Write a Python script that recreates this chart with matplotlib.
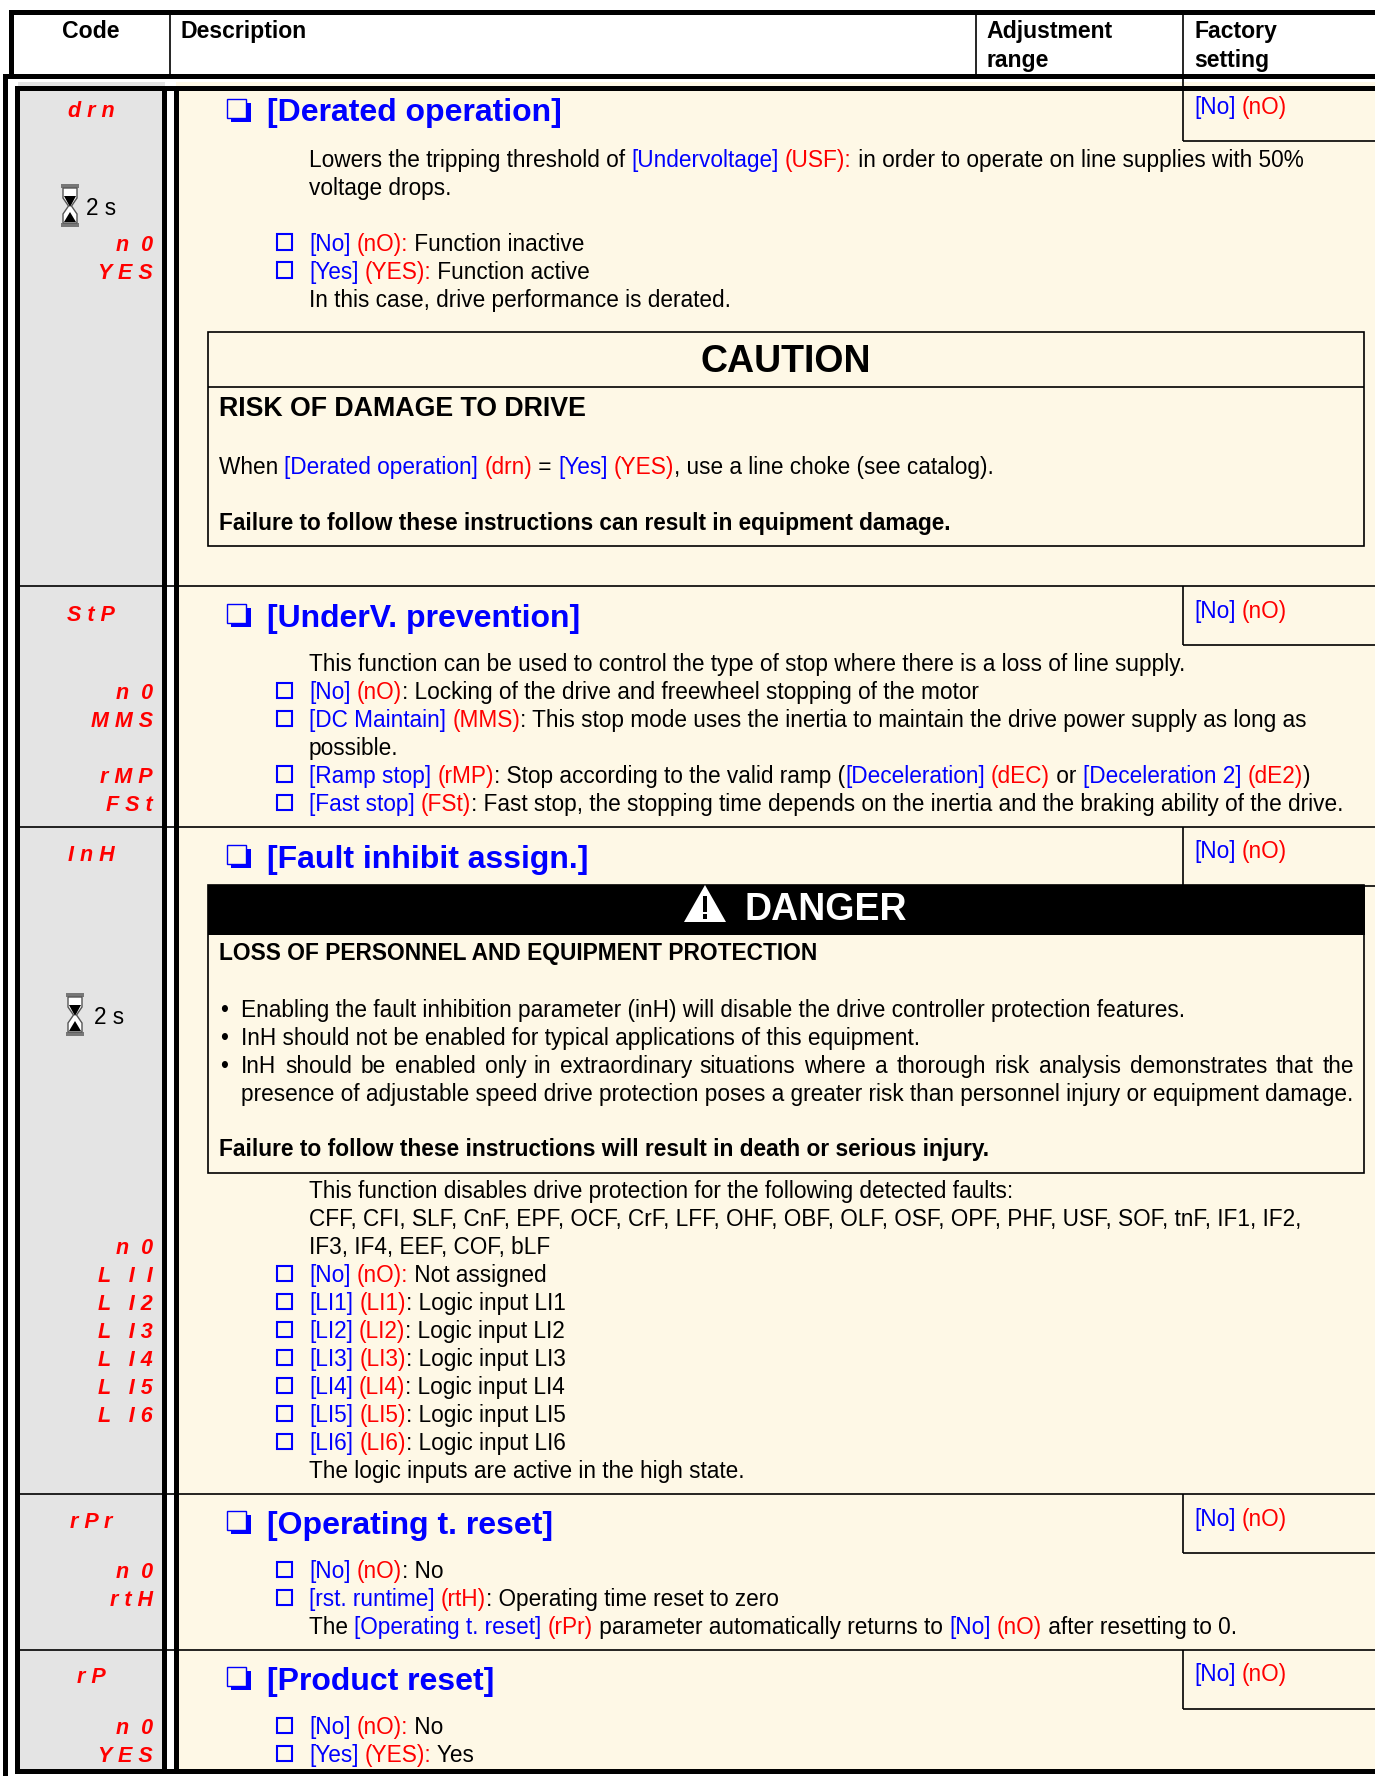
#!/usr/bin/env python3
"""
Drive parameter manual page, drawn as a table in pixel coordinates.
~text~ is blue and ^text^ is red in the text lines below.
"""

import re
import matplotlib
matplotlib.use('Agg')
import matplotlib.pyplot as plt
from matplotlib.patches import Polygon, Rectangle

FONT = 'Liberation Sans'
BLUE = '#0000FF'
RED = '#FF0000'
CREAM = '#FEF8E6'
GREY = '#E4E4E4'

# Header
header_cols = ['Code', 'Description', 'Adjustment\nrange', 'Factory\nsetting']
factory_value = '~[No]~ ^(nO)^'

# Section titles
titles = ['[Derated operation]', '[UnderV. prevention]', '[Fault inhibit assign.]',
          '[Operating t. reset]', '[Product reset]']

# Code column labels
codes_drn = ['d r n', 'n  0', 'Y E S']
codes_stp = ['S t P', 'n  0', 'M M S', 'r M P', 'F S t']
codes_inh = ['I n H', 'n  0', 'L   I  I', 'L   I 2', 'L   I 3', 'L   I 4', 'L   I 5', 'L   I 6']
codes_rpr = ['r P r', 'n  0', 'r t H']
codes_rp = ['r P', 'n  0', 'Y E S']

# Section 1
drn_lines = ['Lowers the tripping threshold of ~[Undervoltage]~ ^(USF):^ in order to operate on line supplies with 50%',
             'voltage drops.']
drn_opts = ['~[No]~ ^(nO):^ Function inactive',
            '~[Yes]~ ^(YES):^ Function active']
drn_after = 'In this case, drive performance is derated.'
caution_title = 'CAUTION'
caution_head = 'RISK OF DAMAGE TO DRIVE'
caution_body = 'When ~[Derated operation]~ ^(drn)^ = ~[Yes]~ ^(YES)^, use a line choke (see catalog).'
caution_foot = 'Failure to follow these instructions can result in equipment damage.'

# Section 2
stp_intro = 'This function can be used to control the type of stop where there is a loss of line supply.'
stp_no = '~[No]~ ^(nO)^: Locking of the drive and freewheel stopping of the motor'
stp_dc = '~[DC Maintain]~ ^(MMS)^: This stop mode uses the inertia to maintain the drive power supply as long as'
stp_dc2 = 'possible.'
stp_ramp = '~[Ramp stop]~ ^(rMP)^: Stop according to the valid ramp (~[Deceleration]~ ^(dEC)^ or ~[Deceleration 2]~ ^(dE2)^)'
stp_fast = '~[Fast stop]~ ^(FSt)^: Fast stop, the stopping time depends on the inertia and the braking ability of the drive.'

# Section 3
danger_title = 'DANGER'
danger_head = 'LOSS OF PERSONNEL AND EQUIPMENT PROTECTION'
danger_bullets = ['Enabling the fault inhibition parameter (inH) will disable the drive controller protection features.',
                  'InH should not be enabled for typical applications of this equipment.',
                  'InH should be enabled only in extraordinary situations where a thorough risk analysis demonstrates that the']
danger_cont = 'presence of adjustable speed drive protection poses a greater risk than personnel injury or equipment damage.'
danger_foot = 'Failure to follow these instructions will result in death or serious injury.'
inh_intro = ['This function disables drive protection for the following detected faults:',
             'CFF, CFI, SLF, CnF, EPF, OCF, CrF, LFF, OHF, OBF, OLF, OSF, OPF, PHF, USF, SOF, tnF, IF1, IF2,',
             'IF3, IF4, EEF, COF, bLF']
inh_opts = ['~[No]~ ^(nO):^ Not assigned', '~[LI1]~ ^(LI1)^: Logic input LI1', '~[LI2]~ ^(LI2)^: Logic input LI2',
            '~[LI3]~ ^(LI3)^: Logic input LI3', '~[LI4]~ ^(LI4)^: Logic input LI4',
            '~[LI5]~ ^(LI5)^: Logic input LI5', '~[LI6]~ ^(LI6)^: Logic input LI6']
inh_after = 'The logic inputs are active in the high state.'

# Section 4 and 5
rpr_opts = ['~[No]~ ^(nO)^: No', '~[rst. runtime]~ ^(rtH)^: Operating time reset to zero']
rpr_after = 'The ~[Operating t. reset]~ ^(rPr)^ parameter automatically returns to ~[No]~ ^(nO)^ after resetting to 0.'
rp_opts = ['~[No]~ ^(nO):^ No', '~[Yes]~ ^(YES):^ Yes']

fig = plt.figure(figsize=(13.75, 17.76), dpi=100)
ax = fig.add_axes([0, 0, 1, 1])
ax.set_xlim(0, 1375)
ax.set_ylim(1776, 0)
ax.axis('off')
renderer = fig.canvas.get_renderer()

BODY = 16.27
HEAD = 16.6
TITLE = 23.0
CODE = 15.5
TEXT_X = 309


def fill(x0, y0, x1, y1, color, z=1):
    ax.add_patch(Rectangle((x0, y0), x1 - x0, y1 - y0, fc=color, ec='none', zorder=z))


def hline(y, x0, x1=1375, lw=1.2):
    ax.plot([x0, x1], [y, y], color='black', lw=lw, solid_capstyle='butt', zorder=3)


def vline(x, y0, y1, lw=1.2):
    ax.plot([x, x], [y0, y1], color='black', lw=lw, solid_capstyle='butt', zorder=3)


def seg_width(s, size, weight):
    # trailing spaces are not measured, so measure against a dot
    a = ax.text(0, 0, s + '.', fontsize=size, fontweight=weight, family=FONT)
    b = ax.text(0, 0, '.', fontsize=size, fontweight=weight, family=FONT)
    w = a.get_window_extent(renderer).width - b.get_window_extent(renderer).width
    a.remove()
    b.remove()
    return w


def rich(x, y, line, size=BODY, weight='normal', color='black'):
    for part in re.split(r'(~[^~]*~|\^[^\^]*\^)', line):
        if not part:
            continue
        c = color
        if part[0] == '~':
            c, part = BLUE, part[1:-1]
        elif part[0] == '^':
            c, part = RED, part[1:-1]
        ax.text(x, y, part, fontsize=size, fontweight=weight, color=c, family=FONT,
                va='baseline', ha='left', zorder=5)
        x += seg_width(part, size, weight)


def justified(x0, x1, y, line, size=BODY):
    # spread the words so the line ends at x1, like the justified paragraph
    words = line.split(' ')
    widths = [seg_width(w, size, 'normal') for w in words]
    gap = (x1 - x0 - sum(widths)) / (len(words) - 1)
    x = x0
    for w, wd in zip(words, widths):
        ax.text(x, y, w, fontsize=size, family=FONT, va='baseline', ha='left', zorder=5)
        x += wd + gap


def option(y, line):
    ax.add_patch(Rectangle((277, y - 16.5), 15.5, 15.5, fc='none', ec=BLUE, lw=1.5, zorder=4))
    rich(TEXT_X, y, line)


def title(y, s):
    # box with a drop shadow
    fill(231, y - 18, 251, y + 1, BLUE, 4)
    ax.add_patch(Rectangle((227.5, y - 22), 19, 19, fc=CREAM, ec=BLUE, lw=1.0, zorder=4))
    rich(267.5, y + 0.5, s, size=TITLE, weight='bold', color=BLUE)


def code(y, s, center=False):
    if center:
        ax.text(91, y, s, fontsize=CODE, color=RED, family=FONT, fontweight='bold',
                style='italic', ha='center', va='baseline', zorder=5)
    else:
        ax.text(153, y, s, fontsize=CODE, color=RED, family=FONT, fontweight='bold',
                style='italic', ha='right', va='baseline', zorder=5)


def hourglass(x, y):
    # frame plates and glass, 18 wide by 44 high
    fill(x, y, x + 18, y + 4, '#777777', 4)
    fill(x, y + 39, x + 18, y + 43, '#777777', 4)
    ax.add_patch(Polygon([(x + 2, y + 4), (x + 16, y + 4), (x + 16, y + 14), (x + 10.5, y + 22),
                          (x + 16, y + 30), (x + 16, y + 39), (x + 2, y + 39), (x + 2, y + 30),
                          (x + 7.5, y + 22), (x + 2, y + 14)],
                         fc='white', ec='#555555', lw=1, zorder=4))
    ax.add_patch(Polygon([(x + 3, y + 12), (x + 15, y + 12), (x + 9, y + 23)], fc='black', ec='none', zorder=5))
    ax.add_patch(Polygon([(x + 3, y + 38), (x + 15, y + 38), (x + 9, y + 28)], fc='black', ec='none', zorder=5))


# Backgrounds
fill(18, 82, 165, 1770, GREY)
fill(176, 82, 1375, 1770, CREAM)

# Header frame
fill(9, 10, 1375, 15, 'black', 3)
fill(9, 10, 14, 79, 'black', 3)
fill(3, 74, 1375, 79, 'black', 3)
vline(170.5, 15, 74)
vline(976, 15, 74)
vline(1183.5, 15, 141)

# Table frame
fill(3, 74, 8, 1776, 'black', 3)
fill(15, 86, 1375, 91, 'black', 3)
fill(15, 86, 20, 1774, 'black', 3)
fill(162, 86, 167, 1774, 'black', 3)
fill(174, 86, 179, 1774, 'black', 3)
fill(16, 1769, 1375, 1774, 'black', 3)

# Section separators and factory setting cells
for sep_y in [586.5, 826.5, 1493.5, 1649.5]:
    hline(sep_y, 20)
    vline(1183.5, sep_y, sep_y + 59)
    hline(sep_y + 59, 1183.5)
hline(141, 1183.5)

# Header text
ax.text(91, 38, header_cols[0], fontsize=HEAD, fontweight='bold', family=FONT, ha='center', va='baseline', zorder=5)
ax.text(181, 38, header_cols[1], fontsize=HEAD, fontweight='bold', family=FONT, va='baseline', zorder=5)
for col_x, col in [(986.5, header_cols[2]), (1194.5, header_cols[3])]:
    first, second = col.split('\n')
    ax.text(col_x, 38, first, fontsize=HEAD, fontweight='bold', family=FONT, va='baseline', zorder=5)
    ax.text(col_x, 67, second, fontsize=HEAD, fontweight='bold', family=FONT, va='baseline', zorder=5)

for val_y in [114, 618, 858, 1526, 1681]:
    rich(1194, val_y, factory_value)

# Code column
code(117, codes_drn[0], center=True)
code(251, codes_drn[1])
code(279, codes_drn[2])
code(621, codes_stp[0], center=True)
for y, s in zip([699, 727, 783, 811], codes_stp[1:]):
    code(y, s)
code(861, codes_inh[0], center=True)
for y, s in zip([1254, 1282, 1310, 1338, 1366, 1394, 1422], codes_inh[1:]):
    code(y, s)
code(1528, codes_rpr[0], center=True)
code(1578, codes_rpr[1])
code(1606, codes_rpr[2])
code(1683, codes_rp[0], center=True)
code(1734, codes_rp[1])
code(1762, codes_rp[2])

# Hourglass and time
hourglass(61, 184)
ax.text(86, 215, '2 s', fontsize=BODY, family=FONT, va='baseline', zorder=5)
hourglass(66, 993)
ax.text(94, 1024, '2 s', fontsize=BODY, family=FONT, va='baseline', zorder=5)

# Section 1
title(121, titles[0])
rich(TEXT_X, 167, drn_lines[0])
rich(TEXT_X, 195, drn_lines[1])
option(251, drn_opts[0])
option(279, drn_opts[1])
rich(TEXT_X, 307, drn_after)

ax.add_patch(Rectangle((208, 332), 1156, 214, fc='none', ec='black', lw=1.2, zorder=4))
hline(387, 208, 1364)
ax.text(786, 372, caution_title, fontsize=27, fontweight='bold', family=FONT, ha='center', va='baseline', zorder=5)
rich(219, 416, caution_head, size=19.3, weight='bold')
rich(219, 474, caution_body)
rich(219, 530, caution_foot, size=16.33, weight='bold')

# Section 2
title(626, titles[1])
rich(TEXT_X, 671, stp_intro)
option(699, stp_no)
option(727, stp_dc)
rich(TEXT_X, 755, stp_dc2)
option(783, stp_ramp)
option(811, stp_fast)

# Section 3
title(867, titles[2])
ax.add_patch(Rectangle((208, 885), 1156, 287.5, fc='none', ec='black', lw=1.2, zorder=4))
fill(208, 885, 1365, 935, 'black', 4)
ax.add_patch(Polygon([(705, 885), (684, 922), (726, 922)], fc='white', ec='none', zorder=5))
fill(703, 896, 707, 912, 'black', 6)
fill(703, 914, 707, 919, 'black', 6)
ax.text(745, 920, danger_title, fontsize=27, fontweight='bold', color='white', family=FONT, va='baseline', zorder=6)
rich(219, 960, danger_head, size=16.4, weight='bold')
for y in [1017, 1045, 1073]:
    ax.text(220, y, '•', fontsize=BODY, family=FONT, va='baseline', zorder=5)
rich(241, 1017, danger_bullets[0])
rich(241, 1045, danger_bullets[1])
justified(241, 1354, 1073, danger_bullets[2])
rich(241, 1101, danger_cont)
rich(219, 1156, danger_foot, size=16.35, weight='bold')
for y, s in zip([1198, 1226, 1254], inh_intro):
    rich(TEXT_X, y, s)
for y, s in zip([1282, 1310, 1338, 1366, 1394, 1422, 1450], inh_opts):
    option(y, s)
rich(TEXT_X, 1478, inh_after)

# Section 4
title(1533, titles[3])
option(1578, rpr_opts[0])
option(1606, rpr_opts[1])
rich(TEXT_X, 1634, rpr_after)

# Section 5
title(1689, titles[4])
option(1734, rp_opts[0])
option(1762, rp_opts[1])

plt.savefig('out.png', dpi=100)
print("saved out.png")
